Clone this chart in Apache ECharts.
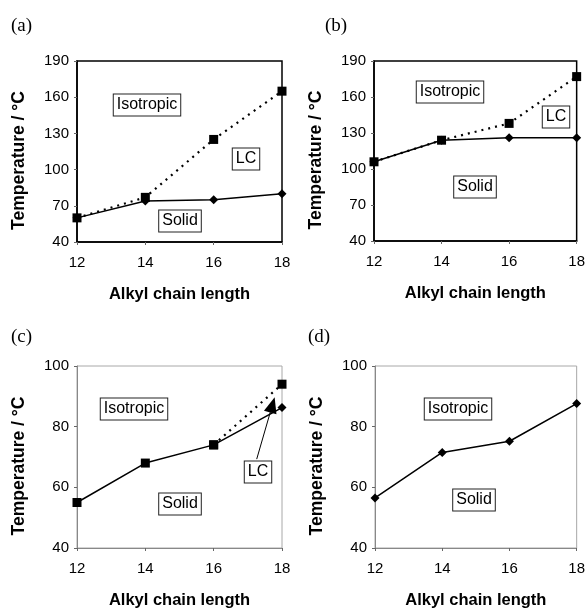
<!DOCTYPE html>
<html>
<head>
<meta charset="utf-8">
<script src="https://cdn.jsdelivr.net/npm/echarts@6/dist/echarts.min.js"></script>
<style>
html,body{margin:0;padding:0;background:#fff;}
#chart{width:588px;height:610px;}
</style>
</head>
<body>
<div id="chart"></div>
<script>
// ---- data ----
const chainLengths = [12, 14, 16, 18];
const aMelting  = [60, 74, 75, 80];
const aClearing = [60, 77, 125, 165];
const bMelting  = [106, 124, 126, 126];
const bClearing = [106, 124, 138, 177];
const cMelting  = [55, 68, 74, 86.3];
const cMeltingSymbols = ['rect', 'rect', 'rect', 'diamond'];
const cClearing = [null, null, 74, 94];
const dMelting  = [56.5, 71.5, 75.2, 87.6];
const cArrowFrom = [17.26, 69.3];
const cArrowTo   = [17.72, 87.2];
const panelLetters = ['(a)', '(b)', '(c)', '(d)'];
const xTitle = 'Alkyl chain length';
const yTitle = 'Temperature / °C';

const chart = echarts.init(document.getElementById('chart'), null, {renderer: 'canvas'});

const grids = [
  {left: 77, top: 61, width: 205, height: 181},
  {left: 374, top: 61, width: 204, height: 180},
  {left: 77, top: 366, width: 205, height: 182},
  {left: 375, top: 366, width: 204, height: 182}
];
const strong = [true, true, false, false];
const yRanges = [[40, 190, 30], [40, 190, 30], [40, 100, 20], [40, 100, 20]];

const FONT = 'Arial, "Liberation Sans", sans-serif';

const gridOpts = grids.map((g, i) => Object.assign({
  show: true,
  borderColor: strong[i] ? '#000' : '#a8a8a8',
  borderWidth: strong[i] ? 1.5 : 1,
  backgroundColor: 'transparent'
}, g));

const xAxes = grids.map((g, i) => ({
  type: 'value', gridIndex: i, min: 12, max: 18, interval: 2,
  name: xTitle, nameLocation: 'middle', nameGap: 44,
  nameTextStyle: {fontFamily: FONT, fontWeight: 'bold', fontSize: 16.5, color: '#000'},
  axisLine: {show: true, lineStyle: {color: strong[i] ? '#000' : '#888', width: strong[i] ? 1.5 : 1}},
  axisTick: {show: true, length: 3, lineStyle: {color: '#666'}},
  axisLabel: {fontFamily: FONT, fontSize: 15, color: '#000', margin: 13},
  splitLine: {show: false}
}));
const yAxes = grids.map((g, i) => ({
  type: 'value', gridIndex: i, min: yRanges[i][0], max: yRanges[i][1], interval: yRanges[i][2],
  name: yTitle, nameLocation: 'middle', nameGap: 49,
  nameTextStyle: {fontFamily: FONT, fontWeight: 'bold', fontSize: 17.5, color: '#000', padding: [0, 18, 0, 0]},
  axisLine: {show: true, lineStyle: {color: strong[i] ? '#000' : '#888', width: strong[i] ? 1.5 : 1}},
  axisTick: {show: true, length: 3, lineStyle: {color: '#666'}},
  axisLabel: {fontFamily: FONT, fontSize: 15, color: '#000', margin: 8},
  splitLine: {show: false}
}));

const zip = (vals) => chainLengths.map((x, k) => vals[k] == null ? [x, null] : [x, vals[k]]);

const solidLine = {color: '#000', width: 1.5, type: 'solid'};
const dottedLine = {color: '#000', width: 2.2, type: [2, 5]};
const black = {color: '#000'};

function series(idx, vals, opts) {
  return Object.assign({
    type: 'line', xAxisIndex: idx, yAxisIndex: idx,
    data: zip(vals), itemStyle: black, silent: true, animation: false,
    connectNulls: false
  }, opts);
}

const seriesList = [
  series(0, aMelting, {lineStyle: solidLine, symbol: 'diamond', symbolSize: 9, z: 2}),
  series(0, aClearing, {lineStyle: dottedLine, symbol: 'rect', symbolSize: 9, z: 3}),
  series(1, bMelting, {lineStyle: solidLine, symbol: 'diamond', symbolSize: 9, z: 2}),
  series(1, bClearing, {lineStyle: dottedLine, symbol: 'rect', symbolSize: 9, z: 3}),
  series(2, cClearing, {lineStyle: dottedLine, symbol: 'rect', symbolSize: 9, z: 2}),
  Object.assign(series(2, cMelting, {lineStyle: solidLine, symbolSize: 9, z: 3}), {
    data: chainLengths.map((x, k) => ({value: [x, cMelting[k]], symbol: cMeltingSymbols[k], symbolSize: 9})),
    markLine: {
      silent: true, animation: false,
      symbol: ['none', 'triangle'], symbolSize: [13, 16],
      lineStyle: {color: '#000', width: 1, type: 'solid'},
      label: {show: false},
      data: [[{coord: cArrowFrom}, {coord: cArrowTo}]]
    }
  }),
  series(3, dMelting, {lineStyle: solidLine, symbol: 'diamond', symbolSize: 9, z: 2})
];

function box(cx, cy, text) {
  return {
    type: 'text', x: cx, y: cy, z: 100,
    style: {
      text: text, fill: '#000', font: '16px ' + FONT,
      align: 'center', verticalAlign: 'middle',
      backgroundColor: '#fff', borderColor: '#222', borderWidth: 1,
      padding: [3, 3, 2, 3]
    }
  };
}
const letterPos = [[11, 17], [325, 17], [11, 328], [308, 328]];
const graphics = [
  box(147, 105, 'Isotropic'), box(246, 159, 'LC'), box(180, 221, 'Solid'),
  box(450, 92, 'Isotropic'), box(556, 117, 'LC'), box(475, 187, 'Solid'),
  box(134, 409, 'Isotropic'), box(258, 472, 'LC'), box(180, 504, 'Solid'),
  box(458, 409, 'Isotropic'), box(474, 500, 'Solid')
].concat(panelLetters.map((t, i) => ({
  type: 'text', x: letterPos[i][0], y: letterPos[i][1],
  style: {text: t, fill: '#000', font: '19px "Liberation Serif", "Times New Roman", serif'}
})));

chart.setOption({
  animation: false,
  backgroundColor: '#fff',
  grid: gridOpts,
  xAxis: xAxes,
  yAxis: yAxes,
  series: seriesList,
  graphic: graphics
});
</script>
</body>
</html>
